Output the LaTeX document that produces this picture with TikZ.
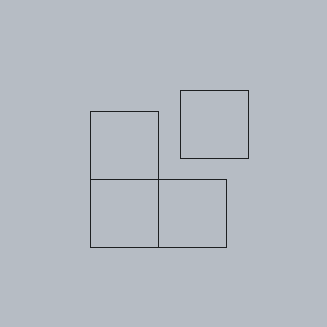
\documentclass[tikz,border=0pt]{standalone}
\definecolor{bg}{RGB}{182,188,196}
\definecolor{ln}{RGB}{30,32,34}
\begin{document}
\begin{tikzpicture}[x=1pt,y=1pt,
  sq/.style={draw=ln,line width=0.9pt,minimum size=68pt,inner sep=0pt,outer sep=0pt,anchor=north west}]
\fill[bg] (0,0) rectangle (327,327);
\useasboundingbox (0,0) rectangle (327,327);
\node[sq] (a) at (90,216) {};
\node[sq] (b) at (90,148) {};
\node[sq] (c) at (158,148) {};
\node[sq] (d) at (180,237) {};
\end{tikzpicture}
\end{document}
